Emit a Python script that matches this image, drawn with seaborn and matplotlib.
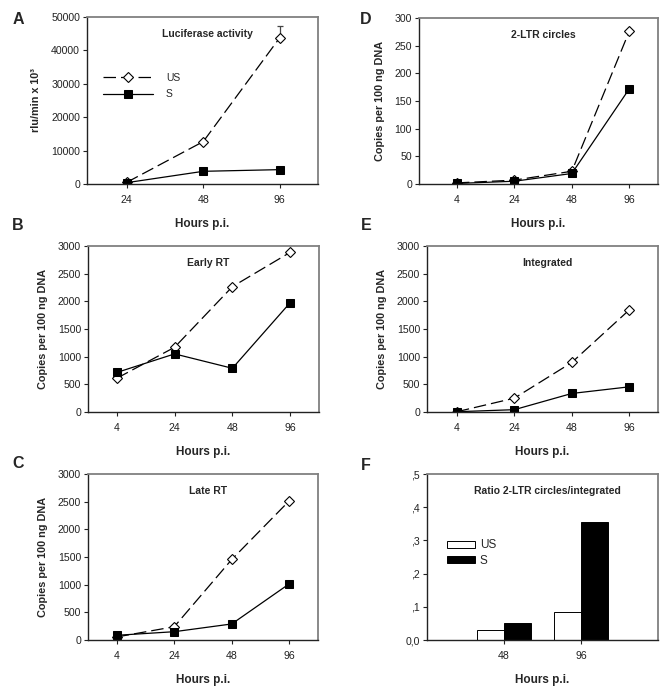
import matplotlib
matplotlib.use("Agg")
import matplotlib.pyplot as plt
import seaborn as sns
import pandas as pd

# ---------------- data ----------------
hours_A = ["24", "48", "96"]
luc_US = [500, 12700, 43800]
luc_S = [400, 3800, 4300]
luc_US_err = [0, 0, 3600]

hours = ["4", "24", "48", "96"]
early_US = [610, 1170, 2265, 2885]
early_S = [715, 1050, 790, 1975]
late_US = [55, 240, 1455, 2515]
late_S = [85, 150, 290, 1015]
ltr_US = [2, 7, 23, 276]
ltr_S = [1, 5, 19, 172]
int_US = [5, 250, 895, 1845]
int_S = [5, 42, 335, 455]

hours_F = ["48", "96"]
ratio_US = [0.029, 0.085]
ratio_S = [0.052, 0.356]
ratio_ticks = [0.0, 0.1, 0.2, 0.3, 0.4, 0.5]
ratio_ticklabels = ["0,0", ",1", ",2", ",3", ",4", ",5"]

groups = ["US", "S"]

# ---------------- style ----------------
sns.set_theme(style="ticks")
plt.rcParams["font.family"] = ["Liberation Sans", "DejaVu Sans"]
plt.rcParams["axes.linewidth"] = 1.0

W, H = 672, 691
fig = plt.figure(figsize=(W / 100, H / 100), dpi=100)


def rect(l, r, t, b):
    return [l / W, (H - b) / H, (r - l) / W, (b - t) / H]


def style_axes(ax, xlim, ylim, yticks, title, ylabel):
    ax.set_xlim(*xlim)
    ax.set_ylim(*ylim)
    ax.set_yticks(yticks)
    for s in ["top", "right"]:
        ax.spines[s].set_color("#808080")
        ax.spines[s].set_linewidth(1.3)
    for s in ["left", "bottom"]:
        ax.spines[s].set_color("#222222")
        ax.spines[s].set_linewidth(1.0)
    ax.tick_params(axis="both", direction="out", length=3, width=0.8,
                   labelsize=7.6, colors="#222222")
    ax.tick_params(axis="x", pad=5)
    ax.tick_params(axis="y", pad=2)
    ax.set_xlabel("Hours p.i.", fontsize=8.5, fontweight="bold", labelpad=9)
    ax.set_ylabel(ylabel, fontsize=7.8, fontweight="bold", labelpad=7)
    ax.text(0.52, 0.9, title, transform=ax.transAxes, ha="center", va="center",
            fontsize=7.5, fontweight="bold")


def line_panel(ax, x, us, s):
    sns.lineplot(x=x, y=us, ax=ax, color="black", marker="D", markersize=5.5,
                 markerfacecolor="white", markeredgecolor="black",
                 markeredgewidth=0.8, linewidth=0.9, linestyle=(0, (10, 4)),
                 label="US", sort=False)
    sns.lineplot(x=x, y=s, ax=ax, color="black", marker="s", markersize=5.5,
                 markerfacecolor="black", markeredgecolor="black",
                 linewidth=0.9, label="S", sort=False)


copies = "Copies per 100 ng DNA"

# Panel A
axA = fig.add_axes(rect(87, 318, 17, 184))
line_panel(axA, hours_A, luc_US, luc_S)
ex = [h for h, e in zip(hours_A, luc_US_err) if e > 0]
ey = [v for v, e in zip(luc_US, luc_US_err) if e > 0]
ee = [e for e in luc_US_err if e > 0]
axA.errorbar(ex, ey, yerr=[[0] * len(ee), ee], fmt="none", ecolor="#444444",
             elinewidth=0.9, capsize=2.5, capthick=0.9, zorder=1)
style_axes(axA, (-0.52, 2.5), (0, 50000), [0, 10000, 20000, 30000, 40000, 50000],
           "Luciferase activity", "rlu/min x 10³")
axA.legend(loc="upper left", bbox_to_anchor=(0.03, 0.72), frameon=False,
           fontsize=7.5, handlelength=4.8, handletextpad=1.2, labelspacing=0.6)

# Panel B
axB = fig.add_axes(rect(88, 319, 246, 412))
line_panel(axB, hours, early_US, early_S)
style_axes(axB, (-0.5, 3.5), (0, 3000), [0, 500, 1000, 1500, 2000, 2500, 3000],
           "Early RT", copies)
axB.get_legend().remove()

# Panel C
axC = fig.add_axes(rect(88, 318, 474, 640))
line_panel(axC, hours, late_US, late_S)
style_axes(axC, (-0.5, 3.5), (0, 3000), [0, 500, 1000, 1500, 2000, 2500, 3000],
           "Late RT", copies)
axC.get_legend().remove()

# Panel D
axD = fig.add_axes(rect(419, 658, 18, 184))
line_panel(axD, hours, ltr_US, ltr_S)
style_axes(axD, (-0.66, 3.5), (0, 300), [0, 50, 100, 150, 200, 250, 300],
           "2-LTR circles", copies)
axD.get_legend().remove()

# Panel E
axE = fig.add_axes(rect(427, 658, 246, 412))
line_panel(axE, hours, int_US, int_S)
style_axes(axE, (-0.52, 3.5), (0, 3000), [0, 500, 1000, 1500, 2000, 2500, 3000],
           "Integrated", copies)
axE.get_legend().remove()

# Panel F
axF = fig.add_axes(rect(427, 658, 474, 640))
dfF = pd.DataFrame({
    "hours": hours_F * 2,
    "ratio": ratio_US + ratio_S,
    "group": [groups[0]] * len(hours_F) + [groups[1]] * len(hours_F),
})
sns.barplot(data=dfF, x="hours", y="ratio", hue="group", hue_order=groups,
            palette={"US": "white", "S": "black"}, edgecolor="black",
            linewidth=0.7, width=0.7, ax=axF, errorbar=None)
style_axes(axF, (-1, 2), (0, 0.5), ratio_ticks, "Ratio 2-LTR circles/integrated", "")
axF.set_yticklabels(ratio_ticklabels)
axF.legend(loc="upper left", bbox_to_anchor=(0.04, 0.67), frameon=False,
           fontsize=8.5, handlelength=2.4, handleheight=0.55, handletextpad=0.4,
           labelspacing=0.3)

# panel letters
for letter, (x, y) in {"A": (18, 20), "B": (18, 226), "C": (18, 464),
                       "D": (366, 20), "E": (366, 226), "F": (366, 466)}.items():
    fig.text(x / W, 1 - y / H, letter, ha="center", va="center",
             fontsize=11.5, fontweight="bold")

fig.savefig("out.png", dpi=100)
